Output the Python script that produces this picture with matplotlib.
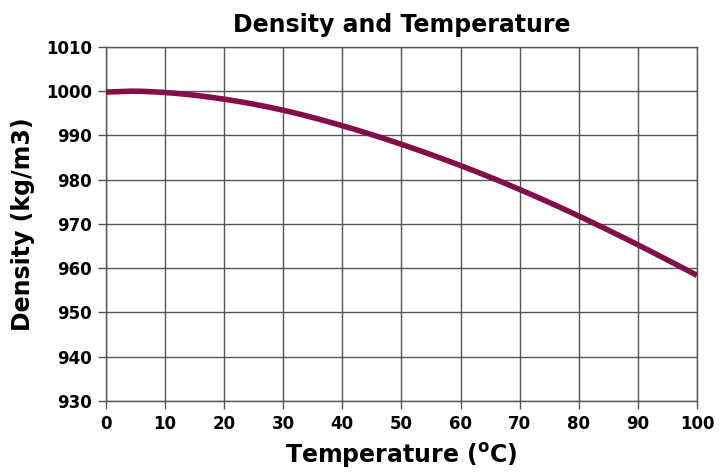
import matplotlib
matplotlib.use("Agg")
import matplotlib.pyplot as plt
import numpy as np

temperature = [0, 4, 10, 20, 30, 40, 50, 60, 70, 80, 90, 100]
density = [999.8, 1000.0, 999.7, 998.2, 995.7, 992.2, 988.0, 983.2, 977.8, 971.8, 965.3, 958.4]
x_ticks = list(range(0, 101, 10))
y_ticks = list(range(930, 1011, 10))

plt.rcParams['font.family'] = ['DejaVu Sans']
fig = plt.figure(figsize=(7.2, 4.74), dpi=100)
ax = fig.add_axes([0.147, 0.154, 0.821, 0.747])

t = np.array(temperature, float); d = np.array(density, float)
xs = np.linspace(0, 100, 400)
m = np.gradient(d, t)
ys = np.empty_like(xs)
for i, xv in enumerate(xs):
    k = min(np.searchsorted(t, xv, side='right') - 1, len(t) - 2)
    h = t[k+1] - t[k]; s = (xv - t[k]) / h
    h00 = 2*s**3 - 3*s**2 + 1; h10 = s**3 - 2*s**2 + s
    h01 = -2*s**3 + 3*s**2; h11 = s**3 - s**2
    ys[i] = h00*d[k] + h10*h*m[k] + h01*d[k+1] + h11*h*m[k+1]

ax.plot(xs, ys, color='#820f4a', lw=4, solid_capstyle='butt', zorder=3)

ax.set_xlim(0, 100)
ax.set_ylim(930, 1010)
ax.set_xticks(x_ticks)
ax.set_yticks(y_ticks)
ax.grid(True, color='#555555', lw=1)
for s in ax.spines.values():
    s.set_color('#555555'); s.set_linewidth(1)
ax.tick_params(axis='both', length=6, width=1, color='#555555', labelsize=12, pad=4)
for lab in ax.get_xticklabels() + ax.get_yticklabels():
    lab.set_fontweight('bold')
ax.set_title('Density and Temperature', fontsize=17, fontweight='bold', pad=11)
ax.set_xlabel('Temperature ($\\mathbf{^o}$C)', fontsize=17, fontweight='bold', labelpad=6)
ax.set_ylabel('Density (kg/m3)', fontsize=17, fontweight='bold', labelpad=8)

fig.savefig('out.png', dpi=100)
